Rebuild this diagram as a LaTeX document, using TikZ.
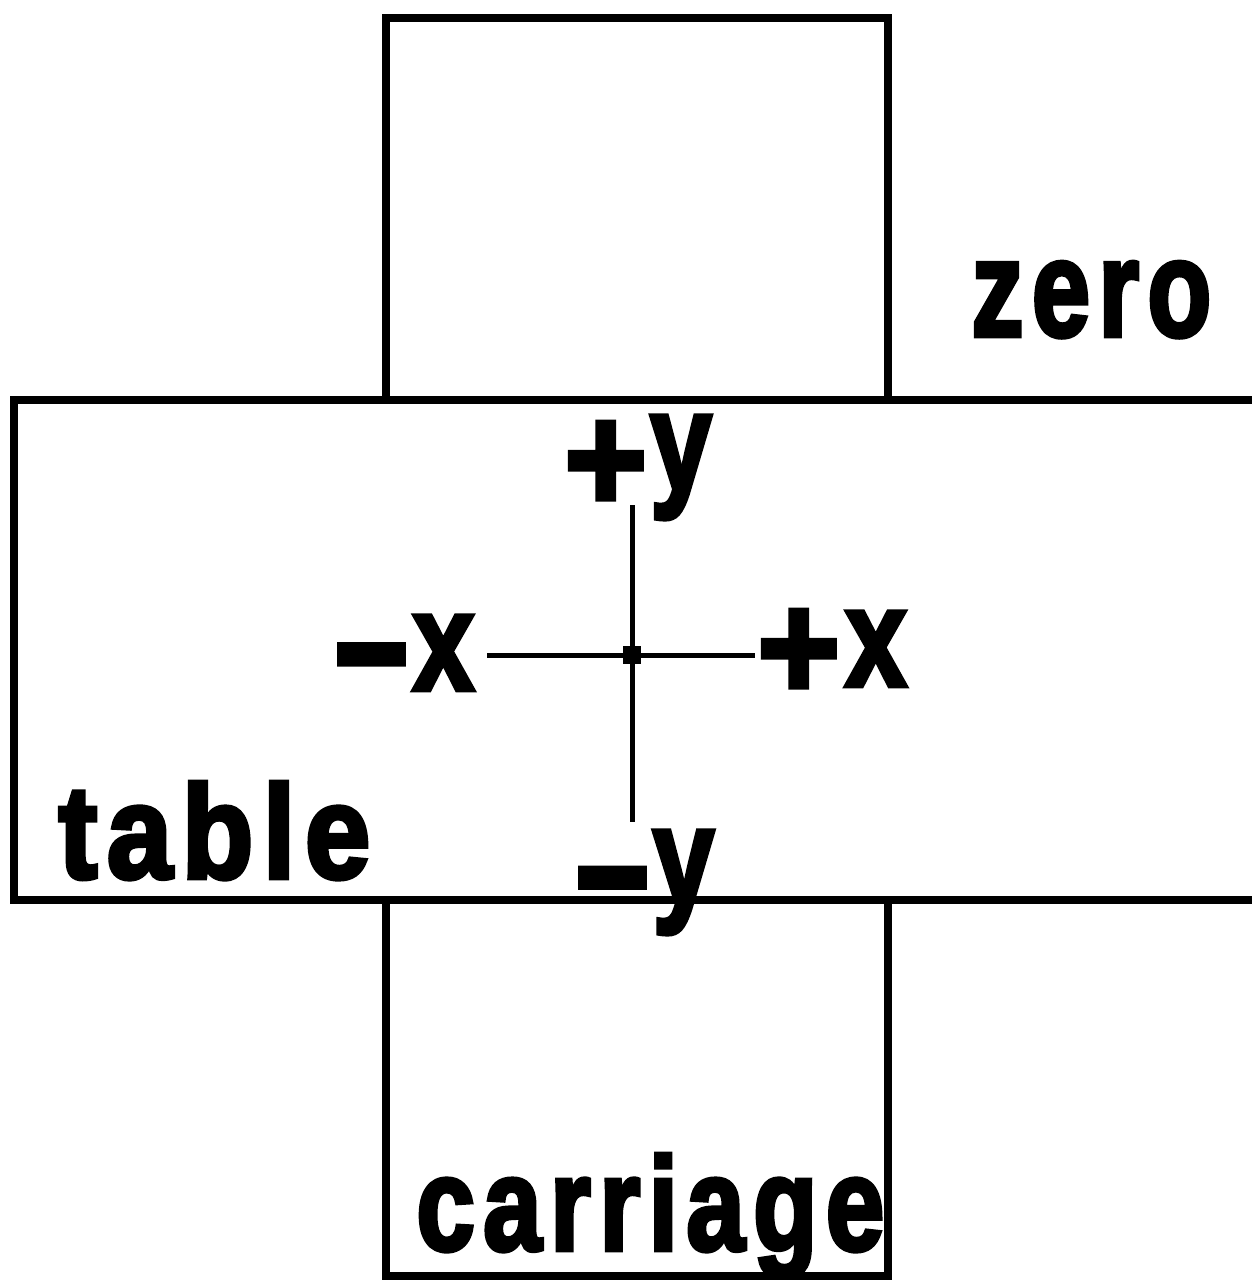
\documentclass[tikz,border=0pt]{standalone}
\usepackage{fontspec}
\usepackage{graphicx}
\newfontfamily\heavy[FakeBold=3.5]{Liberation Sans Bold}
\newfontfamily\heavysp[FakeBold=3.5,LetterSpace=8]{Liberation Sans Bold}
% sign glyphs, scaled and shifted to the reference look
\newcommand{\plussign}[1]{\raisebox{#1}{\scalebox{1.09}[1.16]{+}}}
\newcommand{\minussign}[1]{\raisebox{#1}{\scalebox{1.0}[1.4]{–}}}
\newcommand{\axletter}[1]{\scalebox{0.85}[1.08]{#1}}
\begin{document}
\begin{tikzpicture}[x=0.5pt,y=-0.5pt,
  frame/.style={line width=4pt, line join=miter},
  axis/.style={line width=2.5pt},
  lab/.style={inner sep=0pt, font=\heavy\fontsize{65pt}{65pt}\selectfont},
  word/.style={inner sep=0pt, font=\heavysp\fontsize{65pt}{65pt}\selectfont}]
\useasboundingbox (0,0) rectangle (1252,1280);
\fill[white] (0,0) rectangle (1252,1280);
\clip (0,0) rectangle (1252,1280);
% zero, table and carriage frames
\draw[frame] (386,18) rectangle (888,400);
\draw[frame] (14,400) rectangle (1275,900);
\draw[frame] (386,900) rectangle (888,1276);
% crosshair
\coordinate (o) at (632,655);
\coordinate (yt) at (632,505);
\coordinate (yb) at (632,822);
\coordinate (xl) at (487,655);
\coordinate (xr) at (755,655);
\draw[axis] (yt) -- (yb);
\draw[axis] (xl) -- (xr);
\node[fill, minimum size=9pt, inner sep=0pt] (c) at (o) {};
% axis labels
\node[lab, anchor=base west] (py) at (564,490) {\plussign{-10.4pt}\kern1.5pt\axletter{y}};
\node[lab, anchor=base west] (my) at (576,905) {\minussign{-10.8pt}\kern2pt\axletter{y}};
\node[lab, anchor=base west] (mx) at (335,690) {\minussign{-6.6pt}\kern2.5pt\axletter{x}};
\node[lab, anchor=base west] (px) at (757,686) {\plussign{-6.4pt}\kern2.5pt\axletter{x}};
% part names
\node[word, anchor=base west] (table) at (58,878) {\resizebox{156pt}{48pt}{table}};
\node[word, anchor=base west] (zero) at (971,336) {\resizebox{120pt}{37pt}{zero}};
\node[word, anchor=base west] (carriage) at (416,1250) {\resizebox{234pt}{48pt}{carriage}};
\end{tikzpicture}
\end{document}
